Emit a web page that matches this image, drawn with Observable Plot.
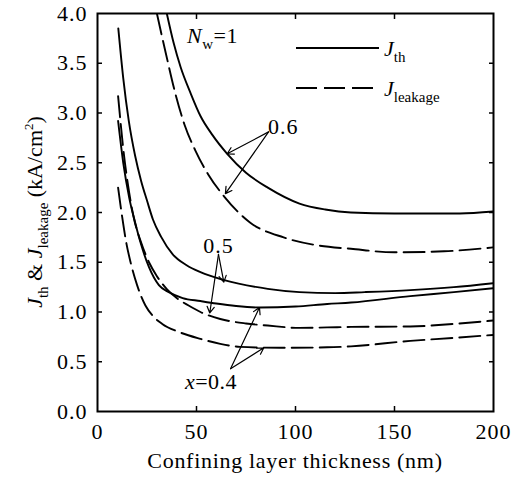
<!DOCTYPE html>
<html><head><meta charset="utf-8">
<script src="https://cdn.jsdelivr.net/npm/d3@7"></script>
<script src="https://cdn.jsdelivr.net/npm/@observablehq/plot@0.6"></script>
<style>body{margin:0;background:#fff;}</style>
</head><body><div id="chart"></div>
<script>
// Confining layer thickness (nm) and current densities (kA/cm^2)
const x_jth06 = [35, 38.5, 42, 47, 52, 58, 65.5, 75, 86, 102, 115, 128, 150, 183, 200];
const y_jth06 = [4.0, 3.70, 3.46, 3.2, 2.97, 2.78, 2.59, 2.40, 2.25, 2.09, 2.03, 2.00, 1.99, 1.99, 2.01];

const x_jl06 = [30, 34.5, 39.4, 44, 49.5, 56, 64, 77, 94, 111, 128, 150, 175, 200];
const y_jl06 = [4.0, 3.6, 3.19, 2.88, 2.62, 2.38, 2.16, 1.90, 1.75, 1.67, 1.635, 1.60, 1.61, 1.65];

const x_jth05 = [10.5, 13, 15.8, 19, 22, 25, 28, 32, 38, 45, 52, 64, 86, 102, 120, 135, 158, 180, 200];
const y_jth05 = [3.85, 3.35, 2.92, 2.57, 2.32, 2.12, 1.93, 1.76, 1.58, 1.47, 1.40, 1.32, 1.233, 1.20, 1.19, 1.20, 1.22, 1.25, 1.29];

const x_jth04 = [10.4, 13, 16, 19, 22, 26, 31, 36, 43, 52, 60, 70, 82, 100, 116, 128, 158, 180, 200];
const y_jth04 = [2.92, 2.5, 2.15, 1.9, 1.68, 1.45, 1.27, 1.20, 1.14, 1.11, 1.085, 1.06, 1.045, 1.055, 1.08, 1.095, 1.16, 1.20, 1.24];

const x_jl05 = [10.4, 13.3, 16, 18.3, 22, 26, 30, 35, 40, 46, 52, 62, 75, 86, 102, 116, 128, 158, 180, 200];
const y_jl05 = [3.17, 2.59, 2.2, 1.95, 1.7, 1.5, 1.36, 1.23, 1.14, 1.065, 1.0, 0.93, 0.885, 0.864, 0.84, 0.845, 0.85, 0.855, 0.88, 0.915];

const x_jl04 = [10.4, 12.5, 14.5, 16.7, 20, 24.2, 28, 32.7, 41, 52, 62, 72, 92, 116, 128, 158, 180, 200];
const y_jl04 = [2.25, 1.95, 1.7, 1.50, 1.27, 1.065, 0.96, 0.88, 0.80, 0.73, 0.68, 0.65, 0.64, 0.645, 0.655, 0.71, 0.74, 0.77];

const xTicks = [0, 50, 100, 150, 200];
const yTicks = [0, 0.5, 1.0, 1.5, 2.0, 2.5, 3.0, 3.5, 4.0];

const series = [
  {name: "Jth x=0.6", type: "th", xs: x_jth06, ys: y_jth06},
  {name: "Jleak x=0.6", type: "leak", xs: x_jl06, ys: y_jl06},
  {name: "Jth x=0.5", type: "th", xs: x_jth05, ys: y_jth05},
  {name: "Jth x=0.4", type: "th", xs: x_jth04, ys: y_jth04},
  {name: "Jleak x=0.5", type: "leak", xs: x_jl05, ys: y_jl05},
  {name: "Jleak x=0.4", type: "leak", xs: x_jl04, ys: y_jl04}
];
const rows = series.flatMap(s => s.xs.map((x, i) => ({x, y: s.ys[i], series: s.name, type: s.type})));

// annotation arrows (data coordinates)
const arrows = [
  {x1: 86.4, y1: 2.81, x2: 65.5, y2: 2.59},
  {x1: 86.4, y1: 2.81, x2: 64.6, y2: 2.19},
  {x1: 61.1, y1: 1.58, x2: 63.8, y2: 1.30},
  {x1: 61.1, y1: 1.58, x2: 56.7, y2: 0.99},
  {x1: 67.2, y1: 0.43, x2: 81.8, y2: 1.045},
  {x1: 67.2, y1: 0.43, x2: 84, y2: 0.64}
];

const DASH = "21,7";
const plot = Plot.plot({
  width: 519, height: 481,
  marginLeft: 97, marginRight: 26, marginTop: 13, marginBottom: 70,
  x: {domain: [0, 200]},
  y: {domain: [0, 4]},
  style: {fontFamily: "'Liberation Serif', 'Times New Roman', serif", fontSize: "22px", background: "white", color: "black", letterSpacing: "1px"},
  marks: [
    Plot.line(rows.filter(d => d.type === "th"), {x: "x", y: "y", z: "series", curve: "monotone-x", stroke: "black", strokeWidth: 1.9, clip: true}),
    Plot.line(rows.filter(d => d.type === "leak"), {x: "x", y: "y", z: "series", curve: "monotone-x", stroke: "black", strokeWidth: 1.9, strokeDasharray: DASH, clip: true}),
    Plot.arrow(arrows, {x1: "x1", y1: "y1", x2: "x2", y2: "y2", bend: 0, headLength: 9, strokeWidth: 1.2, stroke: "black"}),
    Plot.axisX({ticks: xTicks, tickSize: 0, tickPadding: 12, label: null}),
    Plot.axisY({ticks: yTicks, tickSize: 0, tickPadding: 10, tickFormat: d3.format(".1f"), label: null}),
    Plot.axisX({anchor: "bottom", ticks: [50, 100, 150], tickSize: -5, tickFormat: () => "", label: null, strokeWidth: 1.5}),
    Plot.axisX({anchor: "top", ticks: [50, 100, 150], tickSize: -5, tickFormat: () => "", label: null, strokeWidth: 1.5}),
    Plot.axisY({anchor: "left", ticks: yTicks.slice(1, -1), tickSize: -5, tickFormat: () => "", label: null, strokeWidth: 1.5}),
    Plot.axisY({anchor: "right", ticks: yTicks.slice(1, -1), tickSize: -5, tickFormat: () => "", label: null, strokeWidth: 1.5}),
    Plot.frame({stroke: "black", strokeWidth: 2})
  ]
});
document.getElementById("chart").appendChild(plot);

const svg = d3.select(plot);
const X = v => plot.scale("x").apply(v);
const Y = v => plot.scale("y").apply(v);

function rich(x, y, parts, {anchor = "start", rotate = 0, size = 22, spacing = null} = {}) {
  const t = svg.append("text")
    .attr("transform", `translate(${x},${y})` + (rotate ? ` rotate(${rotate})` : ""))
    .attr("text-anchor", anchor)
    .attr("font-size", size)
    .attr("fill", "black");
  if (spacing !== null) t.style("letter-spacing", spacing + "px");
  let shift = 0;
  for (const p of parts) {
    const ts = t.append("tspan").text(p.t);
    let target = 0;
    if (p.sub) { ts.attr("font-size", 15); target = 6; }
    if (p.sup) { ts.attr("font-size", 13); target = -9; }
    if (target !== shift) { ts.attr("dy", target - shift); shift = target; }
    if (p.i) ts.attr("font-style", "italic");
  }
  return t;
}

// y axis title
rich(42, (Y(0) + Y(4)) / 2, [{t: "J", i: 1}, {t: "th", sub: 1}, {t: " & "}, {t: "J", i: 1}, {t: "leakage", sub: 1}, {t: " (kA/cm"}, {t: "2", sup: 1}, {t: ")"}], {anchor: "middle", rotate: -90, spacing: 0});
// x axis title
rich((X(0) + X(200)) / 2, 468, [{t: "Confining layer thickness (nm)"}], {anchor: "middle", spacing: 0.7});

// annotations
rich(X(45.5), Y(3.70), [{t: "N", i: 1}, {t: "w", sub: 1}, {t: "=1"}], {spacing: 0.5});
rich(X(86.4), Y(2.78), [{t: "0.6"}]);
rich(X(61.4), Y(1.59), [{t: "0.5"}], {anchor: "middle"});
rich(X(44.4), Y(0.22), [{t: "x", i: 1}, {t: "=0.4"}], {spacing: 0.5});

// legend
const lg = [{y: 48, dash: null, parts: [{t: "J", i: 1}, {t: "th", sub: 1}]},
            {y: 88, dash: DASH, parts: [{t: "J", i: 1}, {t: "leakage", sub: 1}]}];
for (const l of lg) {
  svg.append("line").attr("x1", 296).attr("x2", 379).attr("y1", l.y).attr("y2", l.y)
    .attr("stroke", "black").attr("stroke-width", 1.9).attr("stroke-dasharray", l.dash);
  rich(384, l.y + 8, l.parts, {spacing: 0});
}
</script>
</body></html>
